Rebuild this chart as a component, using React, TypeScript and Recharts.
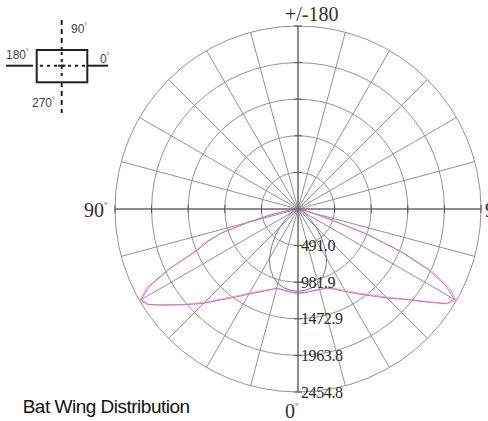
import React from "react";
import {
  RadarChart,
  Radar,
  PolarGrid,
  PolarAngleAxis,
  PolarRadiusAxis,
} from "recharts";

// gamma angles of the lower half (0 = straight down), finer around the wing tips
const gammaSteps = [0, 5, 10, 15, 20, 25, 30, 35, 40, 45, 50, 55, 57.5, 60, 62.5, 65, 67.5, 70, 72.5, 75, 77.5, 80, 85, 90];

// intensity, right half and left half
const magentaRight = [1127, 1120, 1115, 1115, 1130, 1190, 1280, 1390, 1520, 1690, 1890, 2190, 2360, 2420, 2240, 1940, 1490, 950, 380, 160, 85, 45, 12, 0];
const magentaLeft = [1127, 1115, 1100, 1100, 1160, 1230, 1320, 1440, 1590, 1790, 2000, 2250, 2380, 2430, 2250, 1900, 1480, 1300, 1080, 680, 400, 200, 50, 0];
const pinkRight = [1140, 1130, 1120, 1120, 1135, 1180, 1260, 1370, 1500, 1670, 1880, 2170, 2370, 2450, 2290, 1990, 1530, 1000, 420, 190, 95, 50, 15, 0];
const pinkLeft = [1140, 1125, 1110, 1105, 1150, 1215, 1300, 1420, 1570, 1770, 1990, 2240, 2390, 2450, 2290, 1930, 1520, 1340, 1110, 720, 420, 220, 60, 0];
const blueRight = [1105, 1095, 1075, 1035, 970, 880, 770, 620, 480, 340, 220, 140, 110, 85, 65, 50, 38, 28, 20, 15, 10, 7, 3, 0];
const blueLeft = [1105, 1095, 1075, 1035, 970, 880, 770, 620, 480, 340, 220, 140, 110, 85, 65, 50, 38, 28, 20, 15, 10, 7, 3, 0];

const maxValue = 2454.8;
const ringCount = 5;
const ringStep = maxValue / ringCount;
const spokeStep = 15;

// right half goes 0 -> 90, upper half is empty, left half comes back 270 -> 360
const rows: any[] = [];
gammaSteps.forEach((g, i) => {
  rows.push({
    gamma: g,
    blue: blueRight[i] / ringStep,
    magenta: magentaRight[i] / ringStep,
    pink: pinkRight[i] / ringStep,
  });
});
rows.push({ gamma: 180, blue: 0, magenta: 0, pink: 0 });
for (let i = gammaSteps.length - 1; i > 0; i--) {
  rows.push({
    gamma: 360 - gammaSteps[i],
    blue: blueLeft[i] / ringStep,
    magenta: magentaLeft[i] / ringStep,
    pink: pinkLeft[i] / ringStep,
  });
}

const spokes = Array.from({ length: 360 / spokeStep }, (_, i) => -90 + i * spokeStep);

const serif = "Liberation Serif, Times New Roman, serif";
const sans = "Liberation Sans, Arial, sans-serif";

const AngleTick = (props: any) => {
  const { x, y, payload } = props;
  const g = payload?.value;
  const common = { fontFamily: serif, fontSize: 20, fill: "#333" };
  const deg = (
    <tspan dy={-9} fontSize={9}>
      °
    </tspan>
  );
  if (g === 0)
    return (
      <text x={x - 13} y={y + 18} {...common}>
        0{deg}
      </text>
    );
  if (g === 180)
    return (
      <text x={x - 13} y={y + 3} {...common}>
        +/-180
      </text>
    );
  if (g === 270)
    return (
      <text x={x - 23} y={y + 8} {...common}>
        90{deg}
      </text>
    );
  if (g === 90)
    return (
      <text x={x - 4} y={y + 8} {...common}>
        90{deg}
      </text>
    );
  return <g />;
};

const RingLabel = (props: any) => {
  const { x, y, payload } = props;
  if (!payload || payload.value === 0) return <g />;
  return (
    <text
      x={x + 3}
      y={y}
      dominantBaseline="central"
      fontFamily={serif}
      fontSize={16}
      letterSpacing={-0.4}
      fill="#2a2a2a"
    >
      {(payload.value * ringStep).toFixed(1)}
    </text>
  );
};

const crossTick = (vertical: boolean) => (props: any) => {
  const { x, y, payload } = props;
  if (!payload || payload.value === 0) return <g />;
  return vertical ? (
    <line x1={x} y1={y - 4} x2={x} y2={y + 4} stroke="#555" />
  ) : (
    <line x1={x - 4} y1={y} x2={x + 4} y2={y} stroke="#555" />
  );
};

const axisAngles = [-90, 0, 90, 180];

export default function App() {
  return (
    <div style={{ position: "absolute", left: 0, top: 0, width: 488, height: 421, background: "#fff" }}>
      <RadarChart
        width={488}
        height={421}
        data={rows}
        cx={298}
        cy={209}
        outerRadius={183}
        startAngle={-90}
        endAngle={270}
        margin={{ top: 0, right: 0, bottom: 0, left: 0 }}
      >
        <PolarGrid gridType="circle" polarAngles={spokes} stroke="#939393" />
        <PolarAngleAxis
          dataKey="gamma"
          type="number"
          domain={[0, 360]}
          tickCount={5}
          axisLine={false}
          tickLine={false}
          tick={AngleTick}
        />
        <PolarRadiusAxis
          angle={-90}
          domain={[0, ringCount]}
          tickCount={ringCount + 1}
          axisLine={false}
          tick={RingLabel}
          allowDataOverflow
        />
        {axisAngles.map((a) => (
          <PolarRadiusAxis
            key={a}
            radiusAxisId={`axis${a}`}
            angle={a}
            domain={[0, ringCount]}
            tickCount={ringCount * 2 + 1}
            axisLine={{ stroke: "#555" }}
            tick={crossTick(a === 0 || a === 180)}
            allowDataOverflow
          />
        ))}
        <Radar dataKey="blue" stroke="#7272c4" fill="none" fillOpacity={0} dot={false} isAnimationActive={false} />
        <Radar dataKey="pink" stroke="#eba3b6" fill="none" fillOpacity={0} dot={false} isAnimationActive={false} />
        <Radar dataKey="magenta" stroke="#cc6fcc" fill="none" fillOpacity={0} dot={false} isAnimationActive={false} />
      </RadarChart>
      <svg
        width={488}
        height={421}
        style={{ position: "absolute", left: 0, top: 0, pointerEvents: "none" }}
      >
        <g stroke="#222" strokeWidth={2} fill="none">
          <line x1={61.7} y1={20} x2={61.7} y2={50} strokeDasharray="5 4" />
          <line x1={61.7} y1={82} x2={61.7} y2={113} strokeDasharray="5 4" />
          <line x1={61.7} y1={52} x2={61.7} y2={80} strokeDasharray="3 4" />
          <rect x={36.7} y={50} width={50.6} height={32.3} />
          <line x1={6} y1={65.7} x2={33} y2={65.7} />
          <line x1={40} y1={65.7} x2={85} y2={65.7} strokeDasharray="3 4" />
          <line x1={87.3} y1={65.7} x2={108} y2={65.7} />
          <line x1={58} y1={65.7} x2={65.4} y2={65.7} />
        </g>
        <g fontFamily={sans} fontSize={12} fill="#444">
          <text x={71} y={33}>
            90<tspan dy={-5} fontSize={7}>°</tspan>
          </text>
          <text x={6} y={59}>
            180<tspan dy={-5} fontSize={7}>°</tspan>
          </text>
          <text x={100} y={63}>
            0<tspan dy={-5} fontSize={7}>°</tspan>
          </text>
          <text x={32} y={107}>
            270<tspan dy={-5} fontSize={7}>°</tspan>
          </text>
        </g>
        <text x={22.7} y={413.3} fontFamily={sans} fontSize={19} letterSpacing={-0.5} fill="#111">
          Bat Wing Distribution
        </text>
      </svg>
    </div>
  );
}
